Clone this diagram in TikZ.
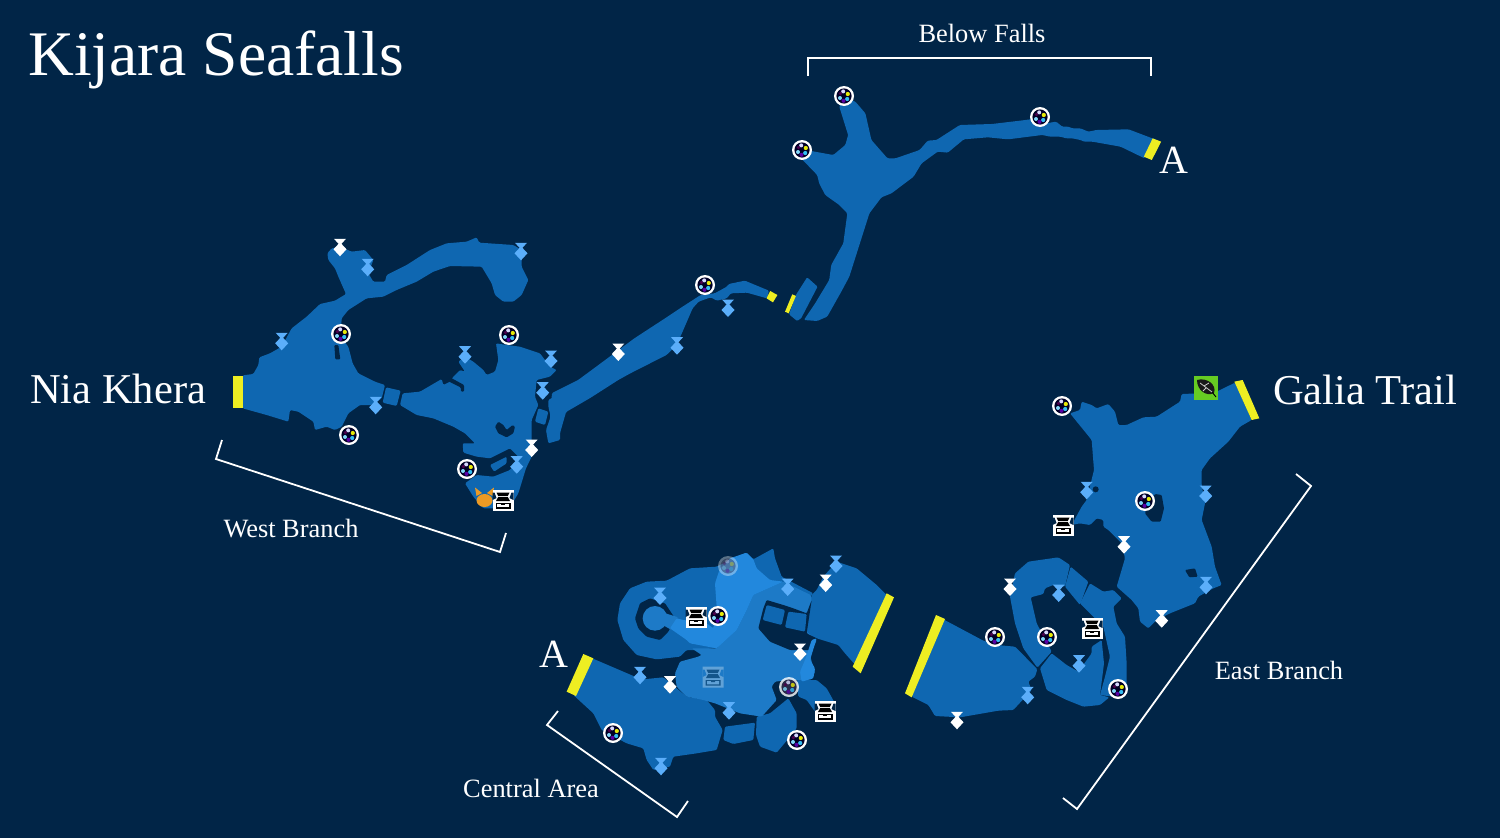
\documentclass[tikz,border=0pt]{standalone}
\usepackage{fontspec}
\setmainfont{Liberation Serif}
\usetikzlibrary{positioning}

\definecolor{seabg}{HTML}{012547}
\definecolor{roomdark}{HTML}{0F67B1}
\definecolor{roommid}{HTML}{1D7AC7}
\definecolor{roomlight}{HTML}{2288DD}
\definecolor{gateyellow}{HTML}{EEEE22}
\definecolor{markblue}{HTML}{5BAEFA}
\definecolor{foxorange}{HTML}{EC9A24}
\definecolor{leafgreen}{HTML}{66CC22}

\tikzset{
    low/.style={fill=roomdark, rounded corners=1.2pt},
    mid/.style={fill=roommid, rounded corners=1.2pt},
    high/.style={fill=roomlight, rounded corners=1.2pt},
    hole/.style={fill=seabg, rounded corners=1pt},
    gate/.style={fill=gateyellow},
    bracket/.style={draw=white, line width=1.8pt},
    title/.style={text=white, inner sep=0pt, font=\fontsize{63.5}{63.5}\selectfont},
    place/.style={text=white, inner sep=0pt, font=\fontsize{42.5}{42.5}\selectfont},
    exitmark/.style={text=white, inner sep=0pt, font=\fontsize{40}{40}\selectfont},
    branch/.style={text=white, inner sep=0pt, font=\fontsize{26.4}{26.4}\selectfont},
    viewwest/.style={shift={(220,230)}, x=0.33333pt, y=-0.33333pt},
    viewnorth/.style={shift={(550,80)}, x=0.40177pt, y=-0.33333pt},
    viewcentre/.style={shift={(540,540)}, x=0.33333pt, y=-0.33333pt},
    vieweast/.style={shift={(900,370)}, x=0.33333pt, y=-0.33333pt},
    pics/waymark/.style={code={
        \fill[#1] (-6,-10.5) -- (6,-10.5) -- (1,-5) -- (0,-1) -- (-1,-5) -- cycle;
        \fill[#1] (0,-7) -- (6.5,0) -- (0,7) -- (-6.5,0) -- cycle;
    }},
    pics/orb/.style={code={
        \fill[white] (0,0) circle (10);
        \fill[black!85!blue] (0,0) circle (7.6);
        \fill[white!85!blue] (-0.8,-4.6) circle (2);
        \fill[yellow!90!green] (3.8,-2) circle (2.1);
        \fill[cyan!80!white] (3.2,3) circle (2.1);
        \fill[cyan!50!white] (-4,2) circle (2);
        \fill[violet!70!blue] (-0.5,4.8) circle (2);
        \fill[violet!60!black] (-3.6,-2.4) circle (1.8);
    }},
    pics/chest/.style={code={
        \fill[white] (-10.5,-10.5) rectangle (10.5,10.5);
        \fill[#1] (-10.5,-7.5) -- (-8.5,-7.5) -- (-6.5,-2) -- (-10.5,0) -- cycle;
        \fill[#1] (10.5,-7.5) -- (8.5,-7.5) -- (6.5,-2) -- (10.5,0) -- cycle;
        \fill[black] (-6.5,-7.5) -- (6.5,-7.5) -- (4.8,-4) -- (-4.8,-4) -- cycle;
        \fill[black] (-4.8,-3) -- (4.8,-3) -- (7,1) -- (-7,1) -- cycle;
        \fill[black] (-7.5,3) rectangle (7.5,8.5);
        \fill[white] (-6,4.2) rectangle (6,7.3);
        \fill[black] (-2,4.2) rectangle (2,5.2);
    }},
}

\begin{document}
\begin{tikzpicture}[x=1pt, y=-1pt]
    \fill[seabg, use as bounding box] (0,0) rectangle (1500,838);

    % west branch
    \begin{scope}[viewwest]
        \path[low] (68,436) -- (100,432) -- (115,405) -- (118,382) -- (150,370) -- (185,350) -- (215,295) -- (260,260)
            -- (300,222) -- (345,212) -- (378,192) -- (355,140) -- (345,115) -- (325,90) -- (322,70) -- (335,55)
            -- (360,50) -- (395,65) -- (435,60) -- (460,90) -- (445,130) -- (460,155) -- (495,155) -- (500,135)
            -- (560,105) -- (630,60) -- (680,40) -- (740,35) -- (770,22) -- (778,38) -- (880,45) -- (905,60)
            -- (905,110) -- (925,150) -- (905,195) -- (880,215) -- (850,215) -- (825,195) -- (815,160) -- (785,110)
            -- (690,108) -- (640,125) -- (590,155) -- (530,180) -- (490,200) -- (440,205) -- (385,240) -- (365,265)
            -- (362,320) -- (385,350) -- (398,400) -- (415,430) -- (465,455) -- (495,465) -- (485,505) -- (455,525)
            -- (420,525) -- (385,550) -- (365,590) -- (345,600) -- (320,590) -- (285,600) -- (280,575) -- (235,545)
            -- (210,540) -- (205,575) -- (140,555) -- (68,535) -- cycle;
        \path[hole] (343,345) -- (355,345) -- (361,388) -- (346,388) -- cycle;
        \path[low] (498,472) -- (542,482) -- (530,528) -- (488,518) -- cycle;
        \path[low] (548,490) -- (600,485) -- (665,447) -- (670,465) -- (690,455) -- (700,440) -- (720,420) -- (735,425)
            -- (715,395) -- (735,380) -- (760,395) -- (790,420) -- (800,435) -- (825,425) -- (835,390) -- (828,340)
            -- (860,345) -- (900,350) -- (960,370) -- (990,410) -- (1010,420) -- (990,440) -- (950,450) -- (945,500)
            -- (955,525) -- (935,570) -- (935,640) -- (935,680) -- (918,715) -- (895,790) -- (880,815) -- (835,835)
            -- (790,835) -- (760,800) -- (735,760) -- (770,735) -- (820,740) -- (870,720) -- (885,700) -- (895,680)
            -- (870,655) -- (840,670) -- (810,685) -- (770,680) -- (730,668) -- (728,640) -- (765,640) -- (735,610)
            -- (700,590) -- (640,565) -- (590,555) -- (540,525) -- cycle;
        \path[hole] (690,442) -- (732,465) -- (732,485) -- (723,485) -- (722,472) -- (682,452) -- cycle;
        \path[hole] (835,575) -- (850,585) -- (860,600) -- (878,585) -- (885,590) -- (880,610) -- (860,622)
            -- (835,610) -- (825,590) -- cycle;
        \path[low] (955,535) -- (985,545) -- (975,585) -- (945,575) -- cycle;
        \path[low] (810,705) -- (860,680) -- (860,700) -- (822,725) -- cycle;
        \path[low] (985,510) -- (1020,490) -- (1020,630) -- (985,640) -- (978,600) -- (992,560) -- (985,530) -- cycle;
        \path[gate] (40,438) rectangle (68,535);
    \end{scope}

    % long passage and falls
    \begin{scope}[viewnorth]
        \path[low] (5,939) -- (70,900) -- (115,860) -- (210,775) -- (280,720) -- (330,680) -- (375,645) -- (410,640)
            -- (440,620) -- (445,612) -- (485,602) -- (545,632) -- (540,655) -- (490,638) -- (450,640) -- (440,655)
            -- (415,662) -- (400,652) -- (370,665) -- (355,685) -- (330,755) -- (315,795) -- (290,825) -- (200,880)
            -- (170,900) -- (100,954) -- (40,996) -- (20,1080) -- (-5,1086) -- cycle;
        \path[gate] (548,633) -- (566,645) -- (555,667) -- (539,655) -- cycle;
        \path[low, rounded corners=1pt] (612,645) -- (640,592) -- (666,620) -- (625,715) -- (615,723) -- (595,703) -- cycle;
        \path[gate] (603,643) -- (612,648) -- (594,700) -- (585,695) -- cycle;
        \path[low] (632,720) -- (660,670) -- (695,600) -- (700,555) -- (730,490) -- (740,400) -- (720,375) -- (685,345)
            -- (670,310) -- (665,285) -- (625,235) -- (627,210) -- (650,213) -- (705,225) -- (735,195) -- (742,165)
            -- (720,80) -- (732,50) -- (760,65) -- (785,100) -- (800,180) -- (840,235) -- (860,235) -- (920,210)
            -- (940,182) -- (962,180) -- (1020,135) -- (1100,132) -- (1170,122) -- (1215,115) -- (1235,130)
            -- (1260,125) -- (1275,140) -- (1290,140) -- (1300,145) -- (1320,145) -- (1340,155) -- (1360,150)
            -- (1440,148) -- (1510,180) -- (1480,235) -- (1420,200) -- (1350,185) -- (1330,185) -- (1320,180)
            -- (1300,175) -- (1285,175) -- (1270,170) -- (1245,170) -- (1225,165) -- (1140,178) -- (1090,172)
            -- (1030,178) -- (990,218) -- (965,215) -- (925,250) -- (905,290) -- (850,340) -- (825,352) -- (795,400)
            -- (770,495) -- (745,590) -- (725,635) -- (690,710) -- (665,723) -- cycle;
        \path[gate] (1500,175) -- (1521,185) -- (1498,240) -- (1478,230) -- cycle;
    \end{scope}

    % central area
    \begin{scope}[viewcentre]
        \path[low] (232,240) -- (240,190) -- (270,145) -- (320,125) -- (380,122) -- (450,85) -- (530,80) -- (600,45)
            -- (620,38) -- (640,58) -- (700,25) -- (705,55) -- (725,110) -- (820,160) -- (700,300) -- (480,330)
            -- (440,330) -- (420,350) -- (350,358) -- (290,345) -- (250,300) -- cycle;
        \path[hole] (285,235) -- (300,190) -- (330,175) -- (375,190) -- (405,235) -- (385,275) -- (360,300)
            -- (320,290) -- (295,265) -- cycle;
        \path[low] (815,165) -- (830,150) -- (850,110) -- (890,65) -- (950,85) -- (1010,135) -- (1040,165) -- (955,385)
            -- (915,340) -- (895,315) -- (830,295) -- (800,280) -- (805,215) -- cycle;
        \path[low] (770,420) -- (830,420) -- (860,445) -- (885,490) -- (825,515) -- (800,480) -- (775,470) -- cycle;
        \path[low] (145,350) -- (285,410) -- (310,418) -- (370,412) -- (410,445) -- (440,470) -- (500,480) -- (525,510)
            -- (525,530) -- (548,570) -- (530,630) -- (470,640) -- (400,650) -- (390,680) -- (340,690) -- (320,660)
            -- (310,625) -- (260,610) -- (185,570) -- (160,520) -- (100,465) -- cycle;
        \path[low] (650,530) -- (690,520) -- (745,475) -- (770,520) -- (770,565) -- (750,590) -- (710,638) -- (660,620)
            -- (648,585) -- cycle;
        \path[low] (555,560) -- (645,548) -- (640,600) -- (580,612) -- (550,600) -- cycle;
        \path[mid] (530,325) -- (590,270) -- (620,210) -- (640,165) -- (730,125) -- (812,165) -- (815,180) -- (805,215)
            -- (800,275) -- (830,300) -- (810,345) -- (815,365) -- (825,395) -- (815,418) -- (770,420) -- (745,420)
            -- (705,425) -- (695,440) -- (710,480) -- (665,530) -- (600,520) -- (525,490) -- (490,480) -- (440,470)
            -- (410,440) -- (405,400) -- (420,365) -- (475,350) -- (485,345) -- (455,325) -- cycle;
        \path[hole] (655,265) -- (670,205) -- (680,180) -- (730,195) -- (760,205) -- (800,220) -- (815,180) -- (800,280)
            -- (830,295) -- (810,330) -- (750,330) -- (690,305) -- cycle;
        \path[low] (680,195) -- (735,210) -- (725,255) -- (668,240) -- cycle;
        \path[low] (745,215) -- (800,222) -- (795,275) -- (735,262) -- cycle;
        \path[high] (830,295) -- (810,360) -- (825,385) -- (820,415) -- (785,425) -- (780,395) -- (795,360) -- (815,300) -- cycle;
        \path[mid] (345,235) circle (37);
        \path[mid] (370,218) -- (415,232) -- (395,270) -- (368,255) -- cycle;
        \path[high] (525,130) -- (540,85) -- (570,55) -- (620,38) -- (640,58) -- (650,85) -- (690,120) -- (730,125)
            -- (640,165) -- (620,210) -- (590,270) -- (530,325) -- (450,310) -- (440,300) -- (390,265) -- (410,235)
            -- (430,240) -- (500,250) -- (520,265) -- (530,200) -- cycle;
        \path[gate] (130,342) -- (160,355) -- (108,468) -- (80,455) -- cycle;
        \path[gate] (1040,160) -- (1062,172) -- (962,400) -- (938,380) -- cycle;
    \end{scope}

    % east branch
    \begin{scope}[vieweast]
        \path[low] (510,130) -- (540,120) -- (545,95) -- (575,105) -- (590,115) -- (625,102) -- (645,125) -- (655,165)
            -- (680,165) -- (730,142) -- (770,140) -- (840,95) -- (845,72) -- (900,70) -- (950,65) -- (1005,38)
            -- (1055,150) -- (1020,170) -- (985,215) -- (930,265) -- (905,300) -- (905,345) -- (915,400) -- (905,450)
            -- (935,530) -- (945,590) -- (965,645) -- (940,655) -- (895,680) -- (885,700) -- (810,730) -- (770,750)
            -- (745,775) -- (720,755) -- (715,715) -- (695,690) -- (650,650) -- (675,565) -- (665,520) -- (650,505)
            -- (625,480) -- (610,470) -- (610,450) -- (590,445) -- (570,465) -- (540,460) -- (515,465) -- (545,410)
            -- (560,390) -- (582,300) -- (575,210) -- cycle;
        \path[hole] (740,410) -- (765,372) -- (785,375) -- (792,415) -- (782,455) -- (755,455) -- (735,430) -- cycle;
        \path[hole] (855,600) -- (885,595) -- (893,620) -- (868,622) -- cycle;
        \path[hole] (587,358) circle (9);
        \path[low] (330,680) -- (345,610) -- (385,575) -- (475,562) -- (510,585) -- (495,650) -- (460,645) -- (435,655)
            -- (430,672) -- (392,682) -- (410,760) -- (455,845) -- (412,893) -- (370,835) -- (345,760) -- cycle;
        \path[low] (512,590) -- (565,635) -- (540,705) -- (495,650) -- cycle;
        \path[low] (570,640) -- (610,665) -- (640,660) -- (665,685) -- (640,710) -- (650,760) -- (675,800) -- (680,880)
            -- (680,950) -- (640,980) -- (600,975) -- (615,920) -- (630,860) -- (610,770) -- (540,700) -- cycle;
        \path[low] (455,850) -- (500,885) -- (535,905) -- (575,850) -- (575,830) -- (605,810) -- (612,880) -- (600,975)
            -- (628,982) -- (600,1005) -- (550,1010) -- (500,990) -- (440,960) -- (420,895) -- cycle;
        \path[low] (130,748) -- (250,812) -- (290,825) -- (345,830) -- (365,850) -- (412,898) -- (405,920) -- (385,935)
            -- (395,960) -- (340,1020) -- (295,1022) -- (180,1042) -- (105,1038) -- (85,1005) -- (35,980) -- cycle;
        \path[gate] (108,735) -- (135,747) -- (35,982) -- (15,970) -- cycle;
        \path[gate] (1003,35) -- (1028,30) -- (1078,145) -- (1055,150) -- cycle;
    \end{scope}

    % map icons
    \foreach \px/\py in {367.7/269.3, 521/253.3, 281.7/343.3, 465/356.7, 551/361, 542.7/392.7, 375.7/407.3,
        516.7/466.7, 677/347.7, 728/310, 660/598, 836/566, 787.7/589, 640/677.3, 729/712.7, 661/768.3,
        1086.7/492.3, 1205.7/496, 1206/587.3, 1058.7/595, 1079/665.7, 1027.7/697.3}{
        \pic at (\px,\py) {waymark=markblue};
    }
    \foreach \px/\py in {340/249.3, 531.7/450, 618.3/354, 825.7/585, 800/654, 670/686.7,
        1124/546.7, 1161.7/620.7, 1010/589, 957/722.3}{
        \pic at (\px,\py) {waymark=white};
    }
    \foreach \px/\py in {844/96, 802/150, 1040/117, 705/285, 341/334, 509/335, 349/435, 467/469,
        1062/406, 1145/501, 995/637, 1047/637, 1118/689, 718/616, 613/733, 797/740}{
        \pic at (\px,\py) {orb};
    }
    \pic[opacity=0.35] at (728,566) {orb};
    \pic[opacity=0.8] at (789,687) {orb};
    \begin{scope}[transparency group, opacity=0.3]
        \pic at (713,677) {chest=roommid};
    \end{scope}

    \fill[foxorange] (484.5,500.5) ellipse (8 and 6.5);
    \fill[foxorange] (475,487.5) -- (482,493) -- (476.5,496) -- cycle;
    \fill[foxorange] (494,487.5) -- (487,493) -- (492.5,496) -- cycle;
    \foreach \px/\py in {503/500, 696/617, 825/711, 1063/525, 1092/628}{
        \pic at (\px,\py) {chest=seabg};
    }

    \fill[leafgreen] (1194,376) rectangle (1218,400);
    \fill[black!90] (1197,380) .. controls (1207,377) and (1217,385) .. (1214,393)
        .. controls (1206,397) and (1197,390) .. (1197,380) -- cycle;
    \draw[black, line width=0.9pt] (1212,392) -- (1216,397);
    \draw[white!80!black, line width=0.8pt] (1200,383) -- (1212,392) (1204,386) -- (1209,383) (1206,388) -- (1203,391);

    % brackets
    \draw[bracket] (808,76) -- (808,58) -- (1151,58) -- (1151,76);
    \draw[bracket] (222,440) -- (216,459) -- (500,552) -- (506,533);
    \draw[bracket] (558,711) -- (547,725) -- (677,817) -- (688,801);
    \draw[bracket] (1296,474) -- (1311,486) -- (1077,809) -- (1063,798);

    % names
    \node[title, anchor=base west] (seafalls) at (28,75) {Kijara Seafalls};
    \node[place, anchor=base west] (niakhera) at (30,403) {Nia Khera};
    \node[place, anchor=base west] (galiatrail) at (1273,404) {Galia Trail};
    \node[exitmark, anchor=base] (exitnorth) at (1174,173) {A};
    \node[exitmark, anchor=base] (exitcentre) at (554,667) {A};
    \node[branch, anchor=base] (belowfalls) at (982,42) {Below Falls};
    \node[branch, anchor=base] (westbranch) at (291,537) {West Branch};
    \node[branch, anchor=base] (centralarea) at (531,797) {Central Area};
    \node[branch, anchor=base] (eastbranch) at (1279,679) {East Branch};
\end{tikzpicture}
\end{document}
